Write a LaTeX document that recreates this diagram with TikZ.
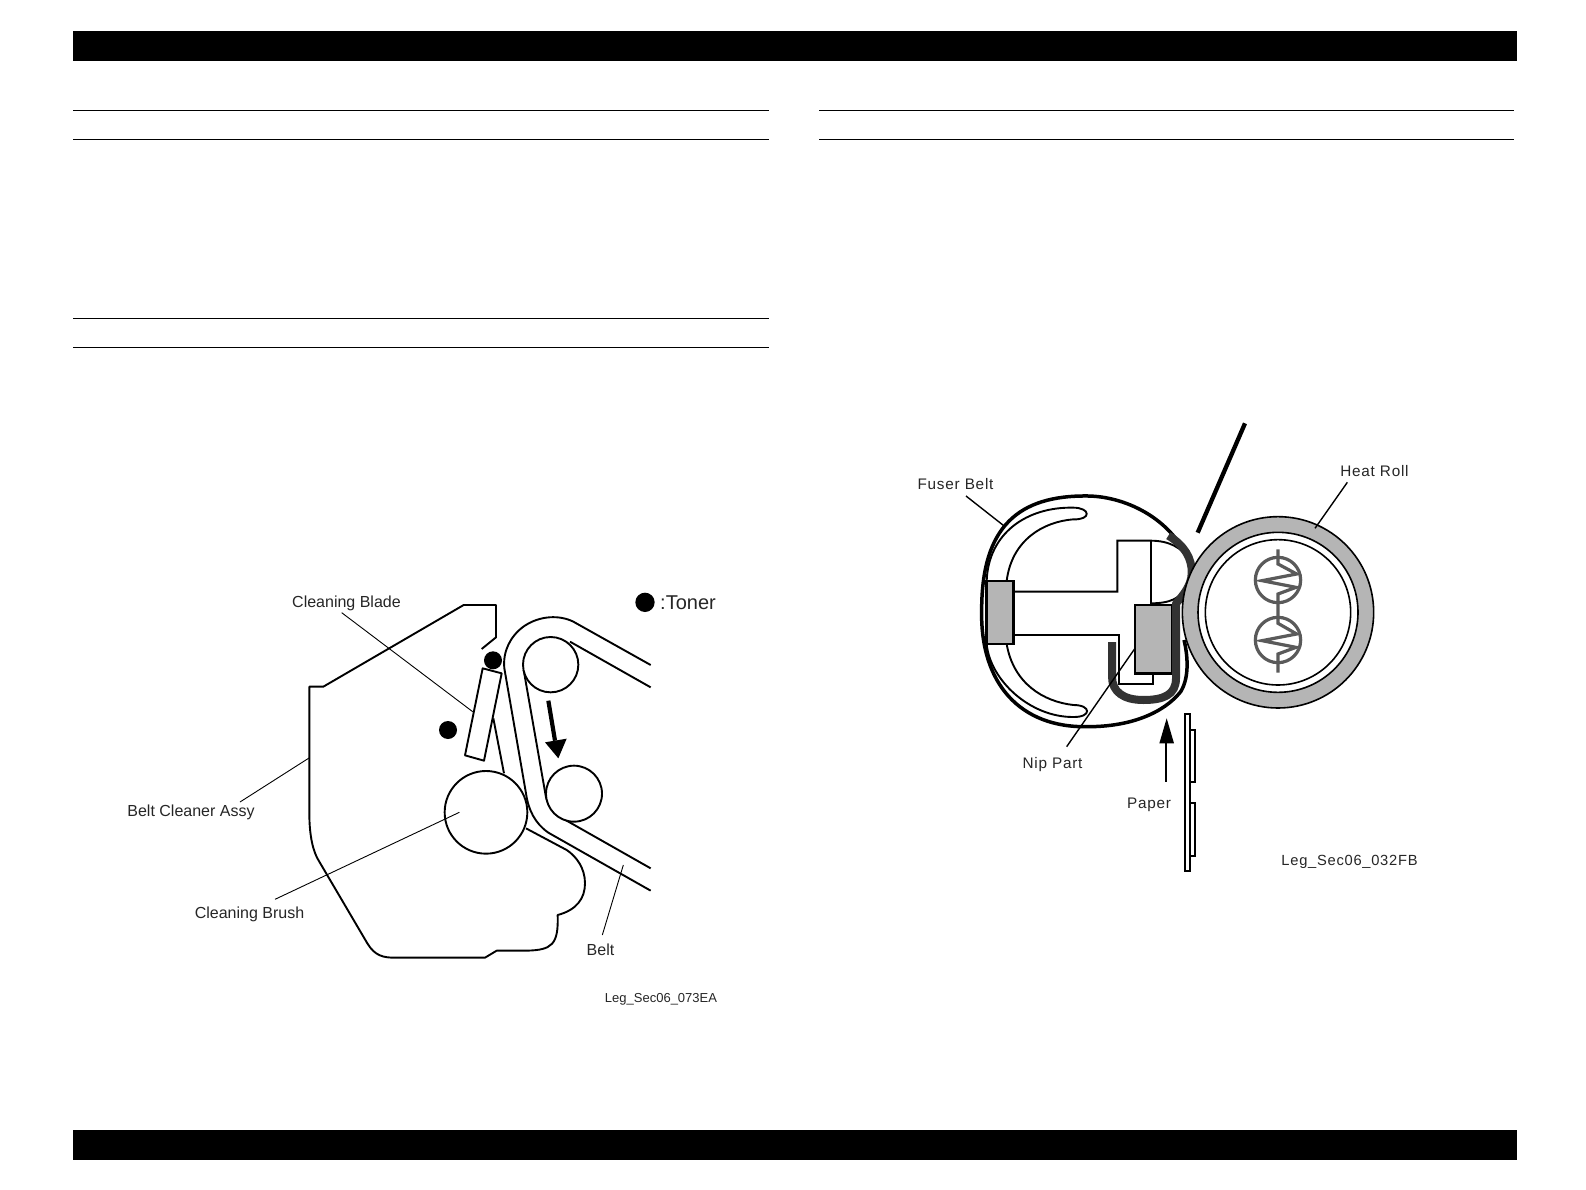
\documentclass[tikz,border=0pt]{standalone}
\usepackage{fontspec}
\newfontfamily\lblfont{Liberation Sans}
\newfontfamily\fbfont[LetterSpace=5]{Liberation Sans}
\definecolor{fill grey}{HTML}{B5B5B5}
\definecolor{dark belt}{HTML}{333333}
\definecolor{heater}{HTML}{5A5A5A}
\tikzset{
  bar/.style={fill=black,draw=none},
  rule/.style={draw=black,line width=0.9pt},
  part/.style={draw=black,line width=1.9pt,line join=round},
  leader/.style={draw=black,line width=0.9pt},
  tonerdot/.style={fill=black,draw=none},
  lbl/.style={inner sep=0pt,font=\lblfont\fontsize{16}{18}\selectfont,text=black!85},
  fblbl/.style={inner sep=0pt,font=\fbfont\fontsize{15.3}{18}\selectfont,text=black!85},
  fbpart/.style={draw=black,line width=1.9pt,line join=miter},
  heavy/.style={draw=black,line width=3.5pt,line join=round},
  heatline/.style={draw=heater,line width=3.2pt,line join=miter}
}
\begin{document}
\begin{tikzpicture}[x=1pt,y=-1pt]
\useasboundingbox (0,0) rectangle (1586,1190);
\fill[white] (0,0) rectangle (1586,1190);
% page furniture
\fill[bar] (73,31) rectangle (1517,61);
\fill[bar] (73,1130) rectangle (1517,1159.5);
\foreach \yy in {110.5,139.5,318.5,347.5} \draw[rule] (73,\yy) -- (769,\yy);
\foreach \yy in {110.5,139.5} \draw[rule] (819,\yy) -- (1514,\yy);

% LEFT DIAGRAM
\begin{scope}[shift={(280,580)},scale=0.33333]
  \coordinate (bladeA) at (185,98);
  \coordinate (bladeB) at (578,395);
  \coordinate (brushB) at (538,697);
  \coordinate (brushA) at (-15,958);
  \coordinate (beltA) at (1030,855);
  \coordinate (beltB) at (967,1065);
  % housing
  \draw[part] (605,207) -- (648,172) -- (648,75) -- (551,75) -- (130,320) -- (88,320) -- (88,700)
     .. controls (88,770) and (100,815) .. (115,840) -- (262,1090)
     .. controls (285,1128) and (310,1133) .. (345,1133) -- (615,1133) -- (650,1112) -- (740,1112)
     .. controls (815,1110) and (836,1095) .. (833,1005)
     .. controls (890,990) and (915,955) .. (915,910)
     .. controls (915,865) and (890,830) .. (860,810) -- (738,745);
  \draw[part] (640,415) -- (672,580);
  % belt
  \draw[part] (1112,255) -- (880,125) .. controls (840,105) and (780,105) .. (730,140)
     .. controls (690,170) and (668,215) .. (673,265) -- (738,640)
     .. controls (745,690) and (765,730) .. (805,758) -- (1112,932);
  \draw[part] (1112,322) -- (870,185);
  \draw[part] (731,270) -- (795,635) .. controls (800,680) and (825,705) .. (860,722) -- (1112,865);
  % rollers and brush
  \draw[part,fill=white] (812,254) circle[radius=83];
  \draw[part,fill=white] (882,641) circle[radius=84];
  \draw[part] (618,697) circle[radius=124];
  % blade
  \draw[part,fill=white] (608,265) -- (665,280) -- (612,542) -- (555,526) -- cycle;
  % toner
  \fill[tonerdot] (639,241) circle[radius=27];
  \fill[tonerdot] (504,450) circle[radius=27];
  \fill[tonerdot] (1095,67) circle[radius=29];
  % movement arrow
  \draw[black,line width=4.2pt] (805,362) -- (825,482);
  \fill[black] (795,487) -- (860,476) -- (835,535) -- cycle;
  % leaders
  \draw[leader] (bladeA) -- (bladeB);
  \draw[leader] (brushB) -- (brushA);
  \draw[leader] (beltA) -- (beltB);
\end{scope}
\coordinate (assyA) at (240,802);
\coordinate (assyEnd) at (309,758);
\draw[leader] (assyA) -- (assyEnd);
\node[lbl] (lblBlade) at (346.5,603.5) {Cleaning Blade};
\node[lbl] (lblAssy) at (191,812) {Belt Cleaner Assy};
\node[lbl] (lblBrush) at (249.5,914.5) {Cleaning Brush};
\node[lbl] (lblBelt) at (600.5,949.5) {Belt};
\node[inner sep=0pt,font=\lblfont\fontsize{20}{22}\selectfont,text=black!85,anchor=west] (lblToner) at (660,603) {:Toner};
\node[inner sep=0pt,font=\lblfont\fontsize{13}{15}\selectfont,text=black!85] (lblLegA) at (661,999) {Leg\_Sec06\_073EA};

% RIGHT DIAGRAM: fuser belt assembly
\begin{scope}[shift={(960,470)},scale=0.33333]
  % outer belt
  \draw[heavy] (697,300) .. controls (650,150) and (500,80) .. (385,78)
     .. controls (175,75) and (65,170) .. (65,420)
     .. controls (60,640) and (180,775) .. (385,770)
     .. controls (510,770) and (610,730) .. (662,665)
     .. controls (690,620) and (682,550) .. (672,510);
  % inner crescent shapes
  \draw[fbpart] (80,333) .. controls (85,190) and (200,110) .. (340,113)
     .. controls (392,113) and (395,150) .. (340,148)
     .. controls (250,155) and (155,210) .. (140,333);
  \draw[fbpart] (140,522) .. controls (160,640) and (250,695) .. (340,705)
     .. controls (395,705) and (395,742) .. (340,741)
     .. controls (210,742) and (90,630) .. (80,522);
  % frame
  \draw[fbpart] (160,365) -- (472,365) -- (472,212) -- (572,212)
     .. controls (630,212) and (665,235) .. (685,265);
  \draw[fbpart] (572,212) -- (572,405);
  \draw[fbpart] (572,400) .. controls (630,400) and (665,385) .. (680,345);
  \draw[fbpart] (160,495) -- (476,495) -- (476,643) -- (580,643) -- (580,610);
  % pads
  \draw[draw=black,line width=2.5pt,fill=fill grey] (80,333) rectangle (160,522);
  \draw[draw=black,line width=2.5pt,fill=fill grey] (525,405) rectangle (637,610);
  % dark belt
  \draw[draw=dark belt,line width=8pt,line join=round] (625,197)
     .. controls (672,225) and (697,265) .. (695,310)
     .. controls (695,345) and (668,378) .. (648,400) -- (648,625)
     .. controls (648,675) and (610,690) .. (550,690)
     .. controls (490,690) and (456,665) .. (456,620) -- (456,516);
  \coordinate (fuserA) at (18,78);
  \coordinate (fuserB) at (135,170);
  \coordinate (nipA) at (320,830);
  \coordinate (nipB) at (525,535);
  \draw[draw=black,line width=1.4pt] (fuserA) -- (fuserB);
  \draw[draw=black,line width=1.4pt] (nipA) -- (nipB);
\end{scope}

% heat roll
\begin{scope}[shift={(1160,410)},scale=0.33333]
  \draw[draw=black,line width=1.6pt,fill=fill grey] (354,607) circle[radius=287];
  \draw[draw=black,line width=1.6pt,fill=white] (354,607) circle[radius=240];
  \draw[draw=black,line width=1.6pt] (354,607) circle[radius=218];
  \draw[heatline] (354,418) -- (354,462) -- (410,492) -- (306,512) -- (408,532) -- (354,552) -- (354,640)
     -- (410,672) -- (306,692) -- (408,712) -- (354,732) -- (354,788);
  \draw[heatline] (354,510) circle[radius=68];
  \draw[heatline] (354,690) circle[radius=68];
  \draw[black,line width=4.3pt] (255,40) -- (113,368);
  \coordinate (heatA) at (562,217);
  \coordinate (heatB) at (465,355);
  \draw[draw=black,line width=1.4pt] (heatA) -- (heatB);
\end{scope}

% paper
\begin{scope}[shift={(1100,700)},scale=0.33333]
  \draw[draw=black,line width=1.9pt] (255,42) rectangle (270,513);
  \draw[draw=black,line width=1.9pt] (270,90) -- (286,90) -- (286,247) -- (270,247);
  \draw[draw=black,line width=1.9pt] (270,310) -- (286,310) -- (286,467) -- (270,467);
  \draw[black,line width=1.9pt] (197,245) -- (197,125);
  \fill[black] (178,130) -- (222,130) -- (200,55) -- cycle;
\end{scope}

\node[fblbl] (lblFuser) at (955.5,484.5) {Fuser Belt};
\node[fblbl] (lblHeat) at (1374.5,471.5) {Heat Roll};
\node[fblbl] (lblNip) at (1052.5,765) {Nip Part};
\node[fblbl] (lblPaper) at (1149,805) {Paper};
\node[inner sep=0pt,font=\fbfont\fontsize{14.7}{18}\selectfont,text=black!85] (lblLegB) at (1349.5,862) {Leg\_Sec06\_032FB};
\end{tikzpicture}
\end{document}
